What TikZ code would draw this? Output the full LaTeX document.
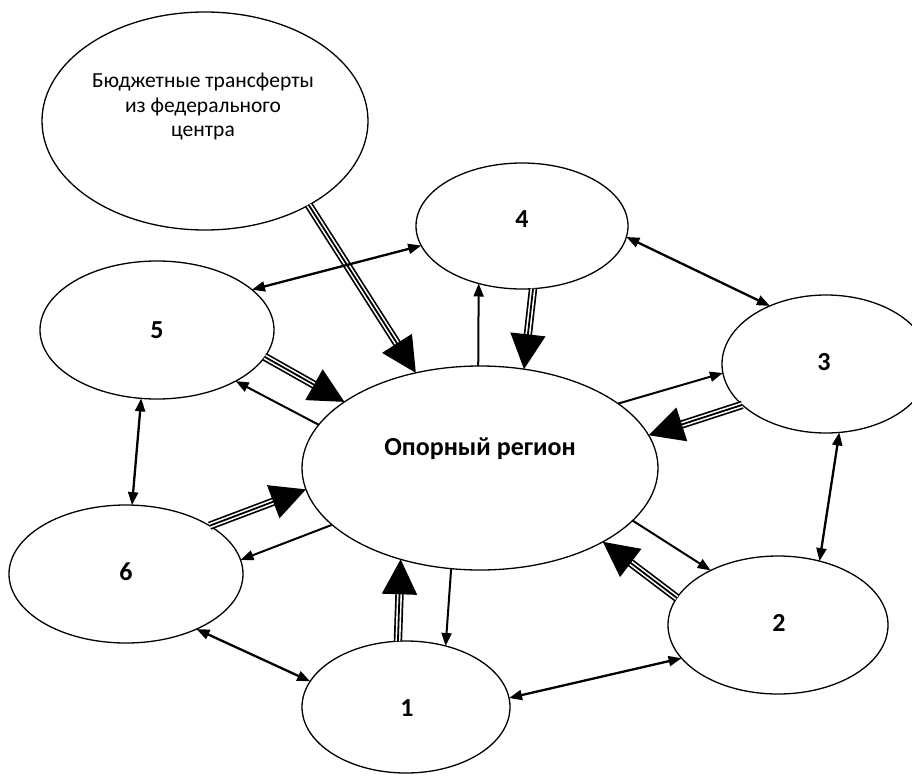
\documentclass[tikz,border=0pt]{standalone}
\usepackage{fontspec}
\setmainfont{Carlito}
\usetikzlibrary{shapes.geometric,arrows.meta}
\tikzset{
  ell/.style={ellipse, draw, line width=1.3pt, inner sep=0pt, outer sep=0pt},
  lab/.style={font=\bfseries\fontsize{26}{30}\selectfont, anchor=base, inner sep=0pt},
  btxt/.style={font=\fontsize{21.5}{25}\selectfont, anchor=base, inner sep=0pt},
  onearrow/.style={line width=2pt, -{Triangle[length=13pt,width=10pt]}},
  twoarrow/.style={line width=2.3pt, {Triangle[length=13pt,width=10pt]}-{Triangle[length=13pt,width=10pt]}},
  trishaft/.style={line width=8.4pt, shorten >=28pt},
  trigap/.style={white, line width=5pt, shorten >=28pt},
  trihead/.style={line width=1.8pt, -{Triangle[length=35pt,width=35pt]}},
}
\newcommand\triplearrow[2]{%
  \draw[trishaft] (#1) -- (#2);
  \draw[trigap] (#1) -- (#2);
  \draw[trihead] (#1) -- (#2);}
\begin{document}
\begin{tikzpicture}[x=1pt,y=-1pt]
\useasboundingbox (0,0) rectangle (912,776);
% ellipses
\node[ell, minimum width=326pt, minimum height=218pt] (B) at (205,121) {};
\node[ell, minimum width=356pt, minimum height=204pt] (C) at (480,468) {};
\node[ell, minimum width=212pt, minimum height=126pt] (n4) at (522,226) {};
\node[ell, minimum width=234pt, minimum height=138pt] (n5) at (157,330) {};
\node[ell, minimum width=234pt, minimum height=138pt] (n6) at (126,574) {};
\node[ell, minimum width=208pt, minimum height=132pt] (n1) at (406,707) {};
\node[ell, minimum width=220pt, minimum height=138pt] (n2) at (778,625) {};
\node[ell, minimum width=208pt, minimum height=138pt] (n3) at (826,364) {};
% texts
\node[btxt] (tB1) at (203,87) {Бюджетные трансферты};
\node[btxt] (tB2) at (203,112) {из федерального};
\node[btxt] (tB3) at (203,136) {центра};
\node[lab] (tC) at (480,455) {Опорный регион};
\node[lab] (t1) at (407,716) {1};
\node[lab] (t2) at (779,631) {2};
\node[lab] (t3) at (824,370) {3};
\node[lab] (t4) at (522,227) {4};
\node[lab] (t5) at (157,338) {5};
\node[lab] (t6) at (126,580) {6};
% triple arrows (flows into the core region)
\triplearrow{B.-39.5}{C.124.4}
\triplearrow{n4.-80.5}{C.66}
\triplearrow{n3.206}{C.11.8}
\triplearrow{n2.165}{C.-31.6}
\triplearrow{n1.97.8}{C.229.9}
\triplearrow{n6.30.1}{C.187.7}
\triplearrow{n5.-14.3}{C.154.6}
% thin arrows from the core region
\draw[onearrow] (C.91.7) -- (n4.233.6);
\draw[onearrow] (C.25.4) -- (n3.185.5);
\draw[onearrow] (C.-19.6) -- (n2.141.3);
\draw[onearrow] (C.254.6) -- (n1.57.8);
\draw[onearrow] (C.201.5) -- (n6.7);
\draw[onearrow] (C.165.2) -- (n5.-33.7);
% two-headed arrows between neighbours
\draw[twoarrow] (n5.23.7) -- (n4.191.6);
\draw[twoarrow] (n4.-6) -- (n3.134.5);
\draw[twoarrow] (n3.281.5) -- (n2.57.9);
\draw[twoarrow] (n1.5.9) -- (n2.199.7);
\draw[twoarrow] (n6.-38) -- (n1.165.4);
\draw[twoarrow] (n5.257.9) -- (n6.85);
\end{tikzpicture}
\end{document}
